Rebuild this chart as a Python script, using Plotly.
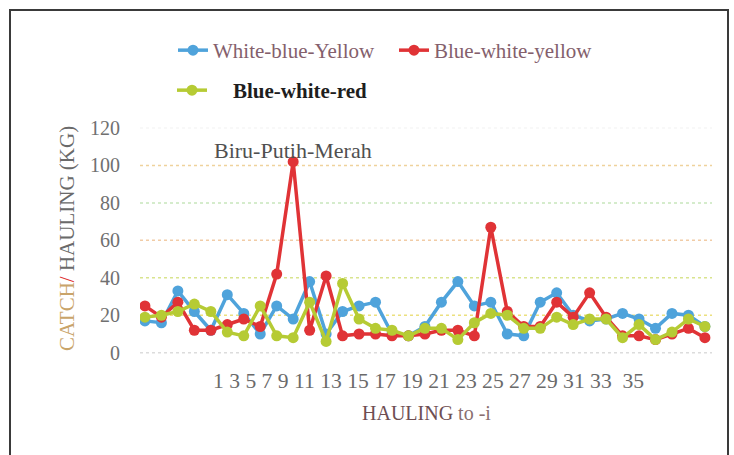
import plotly.graph_objects as go

# Catch per haul (kg) for three light-colour combinations, hauls 1..35
HAULS = list(range(1, 36))
WHITE_BLUE_YELLOW = [17, 16, 33, 22, 12, 31, 21, 10, 25, 18, 38, 10, 22, 25, 27, 10, 9, 14,
                     27, 38, 25, 27, 10, 9, 27, 32, 20, 17, 18, 21, 18, 13, 21, 20, 14]
BLUE_WHITE_YELLOW = [25, 19, 27, 12, 12, 15, 18, 14, 42, 102, 12, 41, 9, 10, 10, 9, 9, 10,
                     12, 12, 9, 67, 22, 14, 14, 27, 19, 32, 19, 9, 9, 7, 10, 13, 8]
BLUE_WHITE_RED = [19, 20, 22, 26, 22, 11, 9, 25, 9, 8, 27, 6, 37, 18, 13, 12, 9, 13,
                  13, 7, 16, 21, 20, 13, 13, 19, 15, 18, 18, 8, 15, 7, 11, 18, 14]

Y_TICKS = [0, 20, 40, 60, 80, 100, 120]
X_TICK_LABELS = ["1", "3", "5", "7", "9", "11", "13", "15", "17", "19", "21", "23",
                 "25", "27", "29", "31", "33", "35"]
GRID_COLORS = ["#dcdcdc", "#ece07e", "#d9e48e", "#f1cca6", "#c8e6bc", "#efd29c", "#f6f6f6"]

W, H = 734, 455
L, R, T, B = 140, 22, 110, 80
PW, PH = W - L - R, H - T - B
FONT = "Times New Roman, Liberation Serif, DejaVu Serif, serif"


def px(x):
    return (x - L) / PW


def py(y):
    return (H - B - y) / PH


fig = go.Figure()

series = [
    ("White-blue-Yellow", WHITE_BLUE_YELLOW, "#4fa3db", "legend"),
    ("Blue-white-yellow", BLUE_WHITE_YELLOW, "#e03336", "legend"),
    ("\u00a0\u00a0\u00a0\u00a0<b>Blue-white-red</b>", BLUE_WHITE_RED, "#b6cb34", "legend2"),
]
for name, vals, color, leg in series:
    fig.add_trace(go.Scatter(
        x=HAULS, y=vals, name=name, mode="lines+markers",
        line=dict(color=color, width=3.5),
        marker=dict(color=color, size=11),
        legend=leg,
    ))

# dotted horizontal gridlines
for v, c in zip(Y_TICKS, GRID_COLORS):
    fig.add_shape(type="line", xref="paper", yref="y", x0=0, x1=1, y0=v, y1=v,
                  line=dict(color=c, width=1.5, dash="dot"), layer="below")

# outer frame
fig.add_shape(type="rect", xref="paper", yref="paper",
              x0=px(10), x1=px(728), y0=py(475), y1=py(10),
              line=dict(color="#3a3a3a", width=2))

fig.add_annotation(text="Biru-Putih-Merah", x=10, y=108, xref="x", yref="y",
                   showarrow=False, font=dict(family=FONT, size=22, color="#505050"),
                   xanchor="center", yanchor="middle")

fig.add_annotation(text=" ".join(X_TICK_LABELS[:-1]) + "\u00a0 " + X_TICK_LABELS[-1],
                   x=px(211), y=py(381), xref="paper", yref="paper", showarrow=False,
                   xanchor="left", yanchor="middle",
                   font=dict(family=FONT, size=21.6, color="#6a6a6a"))

fig.add_annotation(text="<span style='color:#6e4e52'>HAULING</span> to -i",
                   x=px(426), y=py(413), xref="paper", yref="paper", showarrow=False,
                   xanchor="center", yanchor="middle",
                   font=dict(family=FONT, size=20, color="#8a7070"))

fig.add_annotation(
    text="<span style='color:#c9a46a'>CATCH</span><span style='color:#e03030'>/</span> HAULING (KG)",
    x=px(67), y=py(239), xref="paper", yref="paper", showarrow=False, textangle=-90,
    xanchor="center", yanchor="middle",
    font=dict(family=FONT, size=21, color="#6a6a6a"))

fig.update_layout(
    width=W, height=H,
    margin=dict(l=L, r=R, t=T, b=B),
    paper_bgcolor="white", plot_bgcolor="white",
    showlegend=True,
    legend=dict(orientation="h", x=px(173), y=py(30), xanchor="left", yanchor="top",
                entrywidth=176, bgcolor="rgba(0,0,0,0)",
                font=dict(family=FONT, size=21, color="#84606c")),
    legend2=dict(orientation="h", x=px(172), y=py(70), xanchor="left", yanchor="top",
                 bgcolor="rgba(0,0,0,0)",
                 font=dict(family=FONT, size=21, color="#1e1e1e")),
    xaxis=dict(range=[0.7, 35.43], showgrid=False, zeroline=False, showline=False,
               showticklabels=False, ticks=""),
    yaxis=dict(range=[-11.9, 129.6], tickvals=Y_TICKS, showgrid=False, zeroline=False,
               showline=False, ticks="", ticklabelstandoff=19,
               tickfont=dict(family=FONT, size=20, color="#707070")),
)

fig.write_html("out.html")
